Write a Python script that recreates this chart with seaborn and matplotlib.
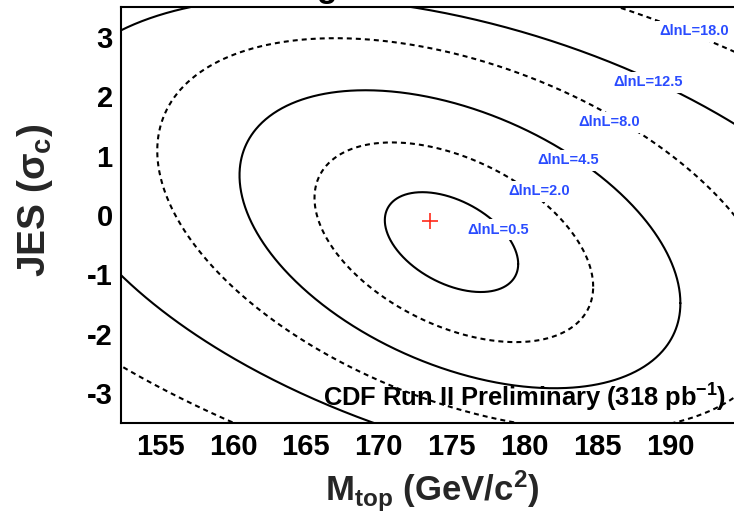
import numpy as np
import pandas as pd
import matplotlib
matplotlib.use("Agg")
import matplotlib.pyplot as plt
import seaborn as sns

# Contour levels of -Delta lnL and the ellipse describing each contour:
# centre (cx, cy), half extents along M_top and JES (sx, sy), correlation rho
levels = [0.5, 2.0, 4.5, 8.0, 12.5, 18.0]
level_names = ["\u0394lnL=0.5", "\u0394lnL=2.0", "\u0394lnL=4.5",
               "\u0394lnL=8.0", "\u0394lnL=12.5", "\u0394lnL=18.0"]
centre_mtop = [175.00, 175.16, 175.58, 176.12, 176.73, 177.00]
centre_jes = [-0.456, -0.459, -0.408, -0.327, -0.366, -0.350]
half_mtop = [4.58, 9.57, 15.14, 21.33, 29.60, 39.60]
half_jes = [0.840, 1.680, 2.507, 3.302, 4.030, 4.950]
rho = [-0.438, -0.444, -0.429, -0.427, -0.425, -0.425]
solid = [True, False, True, False, True, False]

# Label anchor points (M_top, JES) for each contour label
label_mtop = [178.2, 181.0, 183.0, 185.8, 188.5, 191.7]
label_jes = [-0.245, 0.396, 0.919, 1.559, 2.234, 3.094]

# Best fit point
best_mtop = [173.5]
best_jes = [-0.10]

sns.set_theme(style="white")
plt.rcParams["font.family"] = ["Liberation Sans", "DejaVu Sans"]
plt.rcParams["mathtext.fontset"] = "custom"
plt.rcParams["mathtext.rm"] = "Liberation Sans:bold"
plt.rcParams["mathtext.it"] = "Liberation Sans:bold"
plt.rcParams["mathtext.bf"] = "Liberation Sans:bold"
plt.rcParams["lines.scale_dashes"] = False

W, H = 734, 519
fig = plt.figure(figsize=(W / 100, H / 100), dpi=100)
fig.patch.set_facecolor("white")
ax = fig.add_axes([121 / W, (H - 423) / H, 621.7 / W, 416 / H])
ax.set_facecolor("white")

# Contours drawn as closed parametric curves
t = np.linspace(0, 2 * np.pi, 900)
for i, lev in enumerate(levels):
    r = rho[i]
    xs = centre_mtop[i] + half_mtop[i] * np.cos(t)
    ys = centre_jes[i] + half_jes[i] * (r * np.cos(t) + np.sqrt(1 - r * r) * np.sin(t))
    df = pd.DataFrame({"mtop": xs, "jes": ys})
    ls = "-" if solid[i] else (0, (3.6, 2.9))
    sns.lineplot(data=df, x="mtop", y="jes", sort=False, estimator=None,
                 color="black", linewidth=1.5, linestyle=ls, ax=ax, zorder=2)

# Level labels, each breaking its contour with a white box
for i, name in enumerate(level_names):
    ax.text(label_mtop[i], label_jes[i], name, color="#2a4cff", fontsize=10.5,
            fontweight="bold", ha="center", va="center", zorder=4,
            bbox=dict(facecolor="white", edgecolor="none", pad=2.5))

sns.scatterplot(x=best_mtop, y=best_jes, marker="+", s=135, color="#ff2a1a",
                linewidth=1.2, ax=ax, zorder=5)

ax.set_xlim(152.3, 195.0)
ax.set_ylim(-3.5, 3.5)
ax.set_xticks(np.arange(155, 195, 5))
ax.set_xticks(np.arange(153, 195, 1), minor=True)
ax.set_yticks(np.arange(-3, 4, 1))
ax.set_yticks(np.arange(-3.4, 3.5, 0.2), minor=True)
ax.tick_params(axis="both", which="both", direction="in", color="black",
               width=1.1, labelsize=21, labelcolor="black")
ax.tick_params(axis="x", which="major", length=9.5, pad=7)
ax.tick_params(axis="x", which="minor", length=5)
ax.tick_params(axis="y", which="major", length=12, pad=6)
ax.tick_params(axis="y", which="minor", length=6)
ax.set_xticklabels([str(v) for v in range(155, 195, 5)], fontweight="bold")
ax.set_yticklabels([str(v) for v in range(-3, 4)], fontweight="bold")

for side in ["top", "left", "bottom", "right"]:
    ax.spines[side].set_visible(True)
    ax.spines[side].set_color("black")
    ax.spines[side].set_linewidth(1.5)

ax.set_xlabel(r"M$_{\mathrm{top}}$ (GeV/c$^{\mathrm{2}}$)", fontsize=25,
              fontweight="bold", labelpad=6)
ax.set_ylabel(r"JES ($\sigma_{\mathrm{c}}$)", fontsize=28, fontweight="bold")
ax.yaxis.set_label_coords(-0.106, 0.536)

fig.text(323 / W, 1 - 407 / H, r"CDF Run II Preliminary (318 pb$^{\mathrm{-1}}$)",
         fontsize=18.4, fontweight="bold", ha="left", va="baseline", color="black")
fig.text(327 / W, 1 + 3 / H, "g", fontsize=24, fontweight="bold",
         ha="center", va="baseline", color="black")

fig.savefig("out.png", dpi=100, facecolor="white")
